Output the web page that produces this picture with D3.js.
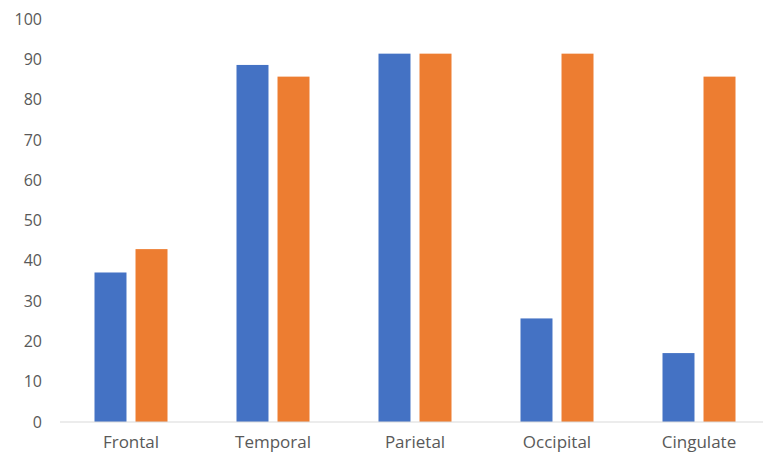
<!DOCTYPE html>
<html>
<head>
<meta charset="utf-8">
<script src="https://cdn.jsdelivr.net/npm/d3@7"></script>
<style>
  html, body { margin: 0; padding: 0; background: #fff; }
  svg { display: block; }
  text { font-family: "Open Sans", "Noto Sans", sans-serif; fill: #595959; }
</style>
</head>
<body>
<svg id="chart" width="763" height="464"></svg>
<script>
// Brain regions on the x axis
const regions = ["Frontal", "Temporal", "Parietal", "Occipital", "Cingulate"];
// Two series, one value per region (percent)
const seriesA = [37.1, 88.6, 91.4, 25.7, 17.1];
const seriesB = [42.9, 85.7, 91.4, 91.4, 85.7];
const seriesColors = ["#4472C4", "#ED7D31"];
const yTicks = [0, 10, 20, 30, 40, 50, 60, 70, 80, 90, 100];

const svg = d3.select("#chart");
const plot = { left: 60, right: 770, top: 19, bottom: 422 };

const x = d3.scaleBand().domain(regions).range([plot.left, plot.right]).padding(0);
const groupWidth = 73;
const xInner = d3.scaleBand().domain([0, 1]).range([0, groupWidth]).paddingInner(0.22).paddingOuter(0);
const y = d3.scaleLinear().domain([0, 100]).range([plot.bottom, plot.top]);

// y axis labels (no axis line, no ticks)
const yAxis = svg.append("g")
  .attr("transform", `translate(${plot.left - 18},0)`)
  .call(d3.axisLeft(y).tickValues(yTicks).tickSize(0).tickPadding(0));
yAxis.select(".domain").remove();
yAxis.selectAll("text").style("font-size", "16px").attr("fill", "#595959");

// bars
const rows = regions.map((r, i) => ({ region: r, values: [seriesA[i], seriesB[i]] }));
const groups = svg.append("g").selectAll("g")
  .data(rows).join("g")
  .attr("transform", d => `translate(${x(d.region) + x.bandwidth() / 2 - groupWidth / 2},0)`);
groups.selectAll("rect")
  .data(d => d.values.map((v, k) => ({ v, k })))
  .join("rect")
  .attr("x", d => xInner(d.k))
  .attr("width", xInner.bandwidth())
  .attr("y", d => y(d.v))
  .attr("height", d => y(0) - y(d.v))
  .attr("fill", d => seriesColors[d.k]);

// category axis with baseline
const xAxis = svg.append("g")
  .attr("transform", `translate(0,${plot.bottom})`)
  .call(d3.axisBottom(x).tickSize(0).tickPadding(14));
xAxis.select(".domain").attr("stroke", "#d9d9d9").attr("stroke-width", 1.2)
  .attr("d", `M${plot.left},0H763`);
xAxis.selectAll("text").style("font-size", "17px").attr("fill", "#595959");
</script>
</body>
</html>
